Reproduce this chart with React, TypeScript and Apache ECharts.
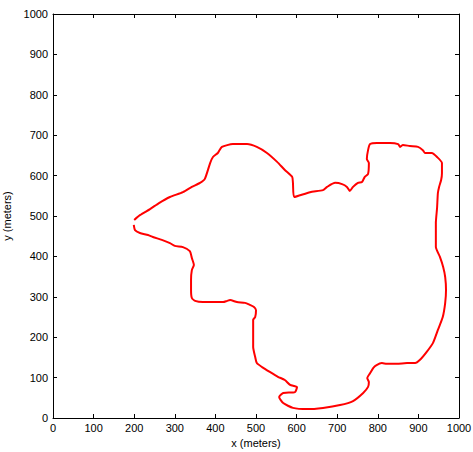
import React, { useEffect, useRef } from "react";
import * as echarts from "echarts";

const xTicks = [0, 100, 200, 300, 400, 500, 600, 700, 800, 900, 1000];
const yTicks = [0, 100, 200, 300, 400, 500, 600, 700, 800, 900, 1000];

const pathX = [
  200, 214, 239, 261, 288, 320, 342, 362, 374, 387, 394, 406, 416, 443, 478, 502, 527, 552, 571, 589,
  591, 594, 633, 665, 675, 695, 712, 724, 731, 739, 751, 761, 768, 776, 778, 773, 776, 781, 798, 830,
  850, 855, 862, 879, 899, 911, 916, 933, 946, 958, 958, 956, 951, 948, 946, 943, 943, 943, 953, 961,
  966, 968, 966, 960, 948, 936, 920, 904, 892, 872, 847, 822, 810, 797, 789, 781, 774, 778, 776, 764,
  739, 707, 665, 626, 591, 567, 557, 567, 596, 601, 594, 584, 571, 554, 534, 515, 502, 498, 493, 493,
  493, 493, 498, 500, 495, 485, 473, 453, 436, 429, 419, 394, 369, 350, 342, 340, 340, 342, 347, 342,
  337, 320, 300, 288, 268, 246, 234, 214, 202, 199,
];
const pathY = [
  490, 502, 517, 532, 547, 559, 572, 582, 592, 631, 646, 656, 671, 678, 678, 671, 656, 634, 614, 597,
  582, 547, 559, 564, 572, 582, 579, 572, 562, 572, 582, 584, 597, 604, 631, 641, 663, 678, 681, 681,
  678, 671, 676, 673, 671, 663, 656, 656, 646, 631, 606, 589, 572, 557, 520, 483, 448, 423, 399, 374,
  349, 317, 285, 250, 218, 186, 163, 144, 136, 136, 134, 134, 136, 131, 124, 111, 99, 89, 77, 62,
  42, 32, 25, 22, 25, 37, 52, 62, 64, 77, 79, 82, 94, 102, 114, 126, 136, 151, 176, 200,
  218, 243, 250, 267, 275, 280, 285, 287, 292, 290, 287, 287, 287, 290, 297, 317, 342, 366, 379, 396,
  413, 423, 426, 433, 441, 448, 453, 458, 465, 478,
];

const FONT = "'Liberation Sans', Arial, Helvetica, sans-serif";

export default function App() {
  const ref = useRef<HTMLDivElement>(null);
  useEffect(() => {
    document.body.style.margin = "0";
    const chart = echarts.init(ref.current!, null, { renderer: "svg" });
    const data = pathX.map((x, i) => [x, pathY[i]]);
    const axisCommon = {
      type: "value" as const,
      min: 0,
      max: 1000,
      interval: 100,
      splitLine: { show: false },
      axisLine: { show: true, onZero: false, lineStyle: { color: "#000", width: 1 } },
      axisTick: { show: true, inside: true, length: 4, lineStyle: { color: "#000" } },
    };
    chart.setOption({
      animation: false,
      backgroundColor: "#fff",
      grid: { left: 53, right: 14, top: 14, bottom: 34, containLabel: false, outerBoundsMode: "none" },
      xAxis: [
        {
          ...axisCommon,
          position: "bottom",
          name: "x (meters)",
          nameLocation: "middle",
          nameGap: 17,
          nameTextStyle: { color: "#000", fontSize: 11, fontFamily: FONT },
          axisLabel: {
            color: "#000",
            fontSize: 11,
            fontFamily: FONT,
            margin: 4,
            formatter: (v: number) => (xTicks.includes(v) ? String(v) : ""),
          },
        },
        { ...axisCommon, position: "top", axisLabel: { show: false } },
      ],
      yAxis: [
        {
          ...axisCommon,
          position: "left",
          name: "y (meters)",
          nameLocation: "middle",
          nameGap: 34,
          nameRotate: 90,
          nameTextStyle: { color: "#000", fontSize: 11, fontFamily: FONT },
          axisLabel: {
            color: "#000",
            fontSize: 11,
            fontFamily: FONT,
            margin: 5,
            formatter: (v: number) => (yTicks.includes(v) ? String(v) : ""),
          },
        },
        { ...axisCommon, position: "right", axisLabel: { show: false } },
      ],
      series: [
        {
          type: "line",
          data,
          showSymbol: false,
          smooth: 0.2,
          lineStyle: { color: "#ff0000", width: 2 },
          xAxisIndex: 0,
          yAxisIndex: 0,
        },
      ],
    });
    return () => chart.dispose();
  }, []);
  return <div ref={ref} style={{ width: 473, height: 452 }} />;
}
